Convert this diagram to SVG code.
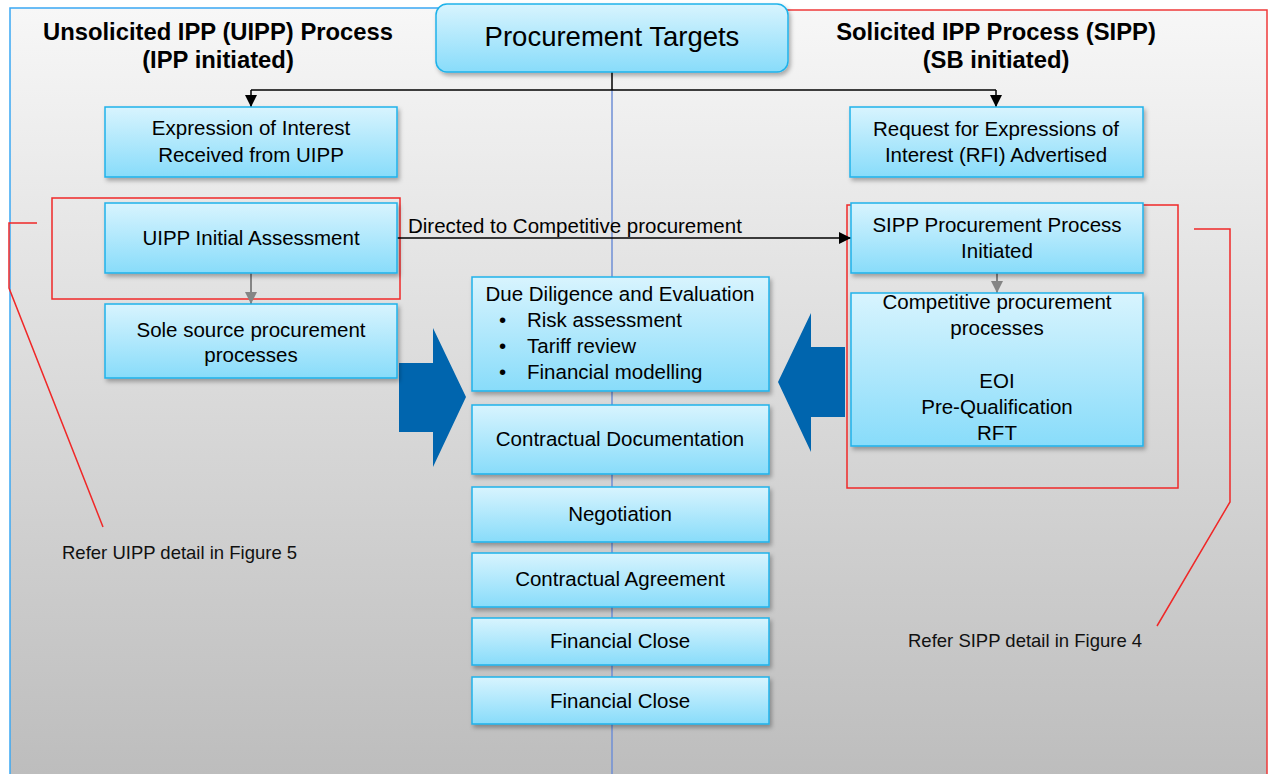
<svg xmlns="http://www.w3.org/2000/svg" width="1268" height="774" viewBox="0 0 1268 774">
<defs>
<linearGradient id="bg" x1="0" y1="0" x2="0" y2="1">
<stop offset="0" stop-color="#f7f7f7"/>
<stop offset="1" stop-color="#bcbcbc"/>
</linearGradient>
<linearGradient id="box" x1="0" y1="0" x2="0" y2="1">
<stop offset="0" stop-color="#d8f4fe"/>
<stop offset="1" stop-color="#88dcfa"/>
</linearGradient>
<filter id="sh" x="-10%" y="-10%" width="125%" height="135%">
<feDropShadow dx="2" dy="3" stdDeviation="2" flood-color="#000" flood-opacity="0.3"/>
</filter>
<marker id="ab" viewBox="0 0 10 10" refX="10" refY="5" markerWidth="12" markerHeight="12" markerUnits="userSpaceOnUse" orient="auto">
<path d="M0,0 L10,5 L0,10 z" fill="#000"/>
</marker>
<marker id="ag" viewBox="0 0 10 10" refX="10" refY="5" markerWidth="12" markerHeight="12" markerUnits="userSpaceOnUse" orient="auto">
<path d="M0,0 L10,5 L0,10 z" fill="#858585"/>
</marker>
<style>
.b{fill:url(#box);stroke:#1fb2ea;stroke-width:1.5;filter:url(#sh)}
.t{font-family:"Liberation Sans",Arial,sans-serif;font-size:20.5px;fill:#000;text-anchor:middle}
.h{font-family:"Liberation Sans",Arial,sans-serif;font-size:23.8px;font-weight:bold;fill:#000;text-anchor:middle}
.n{font-family:"Liberation Sans",Arial,sans-serif;font-size:18.5px;fill:#111}
.red{fill:none;stroke:#f02828;stroke-width:1.5}
.bl{fill:#0065ae}
</style>
</defs>
<rect x="0" y="0" width="1268" height="774" fill="#fff"/>
<g id="panels">
<rect x="10" y="8" width="602" height="780" fill="url(#bg)"/>
<rect x="612" y="10" width="655" height="780" fill="url(#bg)"/>
<path d="M10,790 V8 H612" fill="none" stroke="#3aa8f4" stroke-width="1.5"/>
<path d="M612,10 H1267 V790" fill="none" stroke="#f03a3a" stroke-width="1.5"/>
<line x1="612" y1="90" x2="612" y2="774" stroke="#6f8fd6" stroke-width="1.5"/>
</g>
<g id="headers">
<text class="h" x="218" y="40">Unsolicited IPP (UIPP) Process</text>
<text class="h" x="218" y="68">(IPP initiated)</text>
<text class="h" x="996" y="40">Solicited IPP Process (SIPP)</text>
<text class="h" x="996" y="68">(SB initiated)</text>
</g>
<g id="callouts">
<rect class="red" x="52" y="198" width="348" height="101"/>
<rect class="red" x="847" y="205" width="331" height="283"/>
<polyline class="red" points="37,223 9,223 9,288 103,527"/>
<polyline class="red" points="1194,229 1230,229 1230,502 1157,626"/>
<text class="n" x="62" y="559">Refer UIPP detail in Figure 5</text>
<text class="n" x="908" y="647">Refer SIPP detail in Figure 4</text>
</g>
<g id="connectors">
<line x1="612" y1="72" x2="612" y2="90" stroke="#000" stroke-width="1.5"/>
<line x1="251" y1="90" x2="996" y2="90" stroke="#000" stroke-width="1.5"/>
<line x1="251" y1="90" x2="251" y2="107" stroke="#000" stroke-width="1.5" marker-end="url(#ab)"/>
<line x1="996" y1="90" x2="996" y2="107" stroke="#000" stroke-width="1.5" marker-end="url(#ab)"/>
<line x1="397" y1="238" x2="851" y2="238" stroke="#000" stroke-width="1.5" marker-end="url(#ab)"/>
<text class="t" x="408" y="233" style="text-anchor:start">Directed to Competitive procurement</text>
<line x1="251" y1="273" x2="251" y2="304" stroke="#858585" stroke-width="2" marker-end="url(#ag)"/>
<line x1="997" y1="273" x2="997" y2="293" stroke="#858585" stroke-width="2" marker-end="url(#ag)"/>
<path class="bl" d="M399,363 H433 V328 L466,397 L433,467 V432 H399 Z"/>
<path class="bl" d="M845,347 H811 V313 L778,382 L811,452 V417 H845 Z"/>
</g>
<g id="n-targets">
<rect class="b" x="436" y="4" width="352" height="68" rx="11"/>
<text class="t" x="612" y="46" style="font-size:27.5px">Procurement Targets</text>
</g>
<g id="n-eoi">
<rect class="b" x="105" y="107" width="292" height="70"/>
<text class="t" x="251" y="135">Expression of Interest</text>
<text class="t" x="251" y="162">Received from UIPP</text>
</g>
<g id="n-rfi">
<rect class="b" x="850" y="107" width="293" height="70"/>
<text class="t" x="996" y="136">Request for Expressions of</text>
<text class="t" x="996" y="162">Interest (RFI) Advertised</text>
</g>
<g id="n-uipp-assess">
<rect class="b" x="105" y="203" width="292" height="70"/>
<text class="t" x="251" y="245">UIPP Initial Assessment</text>
</g>
<g id="n-sole">
<rect class="b" x="105" y="304" width="292" height="74"/>
<text class="t" x="251" y="337">Sole source procurement</text>
<text class="t" x="251" y="362">processes</text>
</g>
<g id="n-sipp-init">
<rect class="b" x="851" y="203" width="292" height="70"/>
<text class="t" x="997" y="232">SIPP Procurement Process</text>
<text class="t" x="997" y="258">Initiated</text>
</g>
<g id="n-competitive">
<rect class="b" x="851" y="293" width="292" height="153"/>
<text class="t" x="997" y="309">Competitive procurement</text>
<text class="t" x="997" y="335">processes</text>
<text class="t" x="997" y="388">EOI</text>
<text class="t" x="997" y="414">Pre-Qualification</text>
<text class="t" x="997" y="440">RFT</text>
</g>
<g id="n-due">
<rect class="b" x="472" y="277" width="297" height="114"/>
<text class="t" x="620" y="301">Due Diligence and Evaluation</text>
<g class="t" style="text-anchor:start">
<text x="499" y="327">•</text><text x="527" y="327">Risk assessment</text>
<text x="499" y="353">•</text><text x="527" y="353">Tariff review</text>
<text x="499" y="379">•</text><text x="527" y="379">Financial modelling</text>
</g>
</g>
<g id="n-contract-doc">
<rect class="b" x="472" y="405" width="297" height="69"/>
<text class="t" x="620" y="446">Contractual Documentation</text>
</g>
<g id="n-negotiation">
<rect class="b" x="472" y="487" width="297" height="55"/>
<text class="t" x="620" y="521">Negotiation</text>
</g>
<g id="n-agreement">
<rect class="b" x="472" y="553" width="297" height="54"/>
<text class="t" x="620" y="586">Contractual Agreement</text>
</g>
<g id="n-close1">
<rect class="b" x="472" y="618" width="297" height="47"/>
<text class="t" x="620" y="648">Financial Close</text>
</g>
<g id="n-close2">
<rect class="b" x="472" y="677" width="297" height="47"/>
<text class="t" x="620" y="708">Financial Close</text>
</g>
</svg>
